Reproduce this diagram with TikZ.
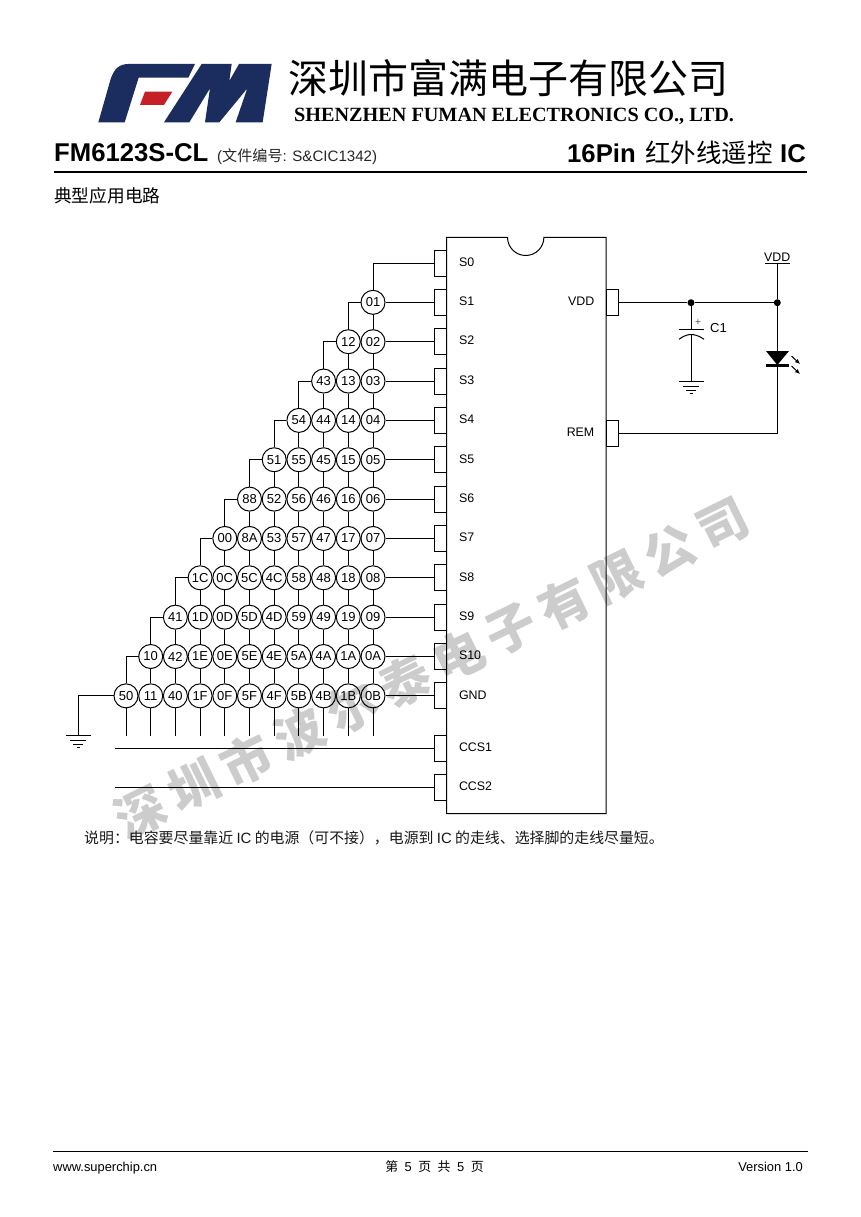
\documentclass[tikz,border=0pt]{standalone}
\usepackage{fontspec}
\setmainfont{Liberation Sans}
\newfontfamily\cjk{Noto Sans CJK SC}
\newfontfamily\timesf{Liberation Serif}
\usetikzlibrary{positioning, calc, arrows.meta}
\definecolor{logoblue}{RGB}{27,45,95}
\definecolor{logored}{RGB}{196,32,38}
\newcommand{\fs}[1]{\fontsize{#1}{#1}\selectfont}
\tikzstyle{wire} = [line width=1pt, black]
\tikzstyle{keybtn} = [circle, draw, fill=white, line width=1pt, minimum size=24pt, inner sep=0pt, font=\fs{13}]
\tikzstyle{pinbox} = [rectangle, draw, fill=white, line width=1pt, minimum width=12pt, minimum height=26pt, inner sep=0pt]
\tikzstyle{pinname} = [inner sep=0pt, font=\fs{12.4}]
\tikzstyle{dot} = [circle, fill=black, minimum size=7pt, inner sep=0pt]
\tikzstyle{pagetext} = [inner sep=0pt, anchor=west]
\tikzstyle{rule} = [line width=1.8pt, black]
\tikzstyle{stamp} = [inner sep=0pt, rotate=26.2, text=black, opacity=0.2, font=\cjk\bfseries\fs{50}]
\tikzset{
	gndmark/.pic={
		\draw [wire] (-12.5,0) -- (12.5,0);
		\draw [wire] (-8,5) -- (8,5);
		\draw [wire] (-5,8.5) -- (5,8.5);
		\draw [wire] (-1.5,11.5) -- (1.5,11.5);
	},
}
\begin{document}
\begin{tikzpicture}[x=1pt, y=-1pt]
    \useasboundingbox (0,0) rectangle (860,1217);
    \fill [white] (0,0) rectangle (860,1217);

    % header
    \begin{scope}[shift={(90,55)}, x=0.3333pt, y=-0.3333pt]
        \fill [logoblue] (25,202) -- (62,72) .. controls (72,42) and (88,27) .. (115,27) -- (315,27) -- (295,68) -- (146,68) -- (104,202) -- cycle;
        \fill [logored] (165,110) -- (247,110) -- (222,150) -- (150,150) -- cycle;
        \fill [logoblue] (222,202) -- (335,27) -- (425,27) -- (418,78) -- (447,27) -- (545,27) -- (518,202) -- (437,202) -- (472,100) -- (388,202) -- (345,202) -- (360,100) -- (298,202) -- cycle;
    \end{scope}
    \node (company) [pagetext, font=\cjk\fs{40}] at (288,78) {深圳市富满电子有限公司};
    \node (companyen) [pagetext, font=\timesf\bfseries\fs{20.2}] at (294,116) {SHENZHEN FUMAN ELECTRONICS CO., LTD.};
    \node (part) [pagetext, font=\bfseries\fs{25.7}] at (54,153) {FM6123S-CL};
    \node (docno) [pagetext, font=\fs{15.1}, text=black!85] at (217,157) {({\cjk 文件编号}: S\&CIC1342)};
    \node (kind) [inner sep=0pt, anchor=east, font=\bfseries\fs{25.7}] at (806,153) {16Pin\hspace{4pt}{\cjk\mdseries\fs{25.5} 红外线遥控} IC};
    \draw [rule] (54,172) -- (807,172);
    \node (section) [pagetext, font=\cjk\fs{17.7}] at (54,196) {典型应用电路};

    % key matrix, rows from S1 to GND, right column first
    \foreach \r/\keys in {1/{01}, 2/{02,12}, 3/{03,13,43}, 4/{04,14,44,54}, 5/{05,15,45,55,51}, 6/{06,16,46,56,52,88},
        7/{07,17,47,57,53,8A,00}, 8/{08,18,48,58,4C,5C,0C,1C}, 9/{09,19,49,59,4D,5D,0D,1D,41},
        10/{0A,1A,4A,5A,4E,5E,0E,1E,42,10}, 11/{0B,1B,4B,5B,4F,5F,0F,1F,40,11,50}}
        \foreach \k [count=\c from 0] in \keys
            \node (k\r-\c) [keybtn] at ({373-24.7*\c},{263+39.35*\r}) {\k};

    % left pins
    \foreach \r/\name in {0/S0, 1/S1, 2/S2, 3/S3, 4/S4, 5/S5, 6/S6, 7/S7, 8/S8, 9/S9, 10/S10, 11/GND} {
        \node (p\r) [pinbox] at ({440.3},{263+39.35*\r}) {};
        \node (n\r) [pinname, anchor=west, right = 12pt of p\r, yshift=1pt] {\name};
    }
    \node (p12) [pinbox] at (440.3,748.3) {};
    \node (n12) [pinname, anchor=west, right = 12pt of p12, yshift=1pt] {CCS1};
    \node (p13) [pinbox] at (440.3,787.7) {};
    \node (n13) [pinname, anchor=west, right = 12pt of p13, yshift=1pt] {CCS2};

    % right pins
    \node (pvdd) [pinbox] at (612,302.7) {};
    \node (nvdd) [pinname, anchor=east, left = 11pt of pvdd, yshift=1pt] {VDD};
    \node (prem) [pinbox] at (612,433.7) {};
    \node (nrem) [pinname, anchor=east, left = 11pt of prem, yshift=1pt] {REM};

    % chip body
    \draw [wire] (446.5,237.3) -- (507.5,237.3) arc [start angle=180, end angle=0, radius=18.2] -- (606,237.3) -- (606,813.7) -- (446.5,813.7) -- cycle;

    % key wiring
    \draw [wire] (p0.west) -| (k1-0.north);
    \foreach \r in {1,...,11}
        \draw [wire] (k\r-0.east) -- (p\r.west);
    \foreach \r [evaluate=\r as \nr using int(\r+1), evaluate=\r as \last using int(\r-1)] in {1,...,10} {
        \foreach \c in {0,...,\last}
            \draw [wire] (k\r-\c.south) -- (k\nr-\c.north);
        \draw [wire] (k\r-\last.west) -| (k\nr-\r.north);
    }
    \foreach \c in {0,...,10} {
        \coordinate (tail\c) at ([yshift=-27.5pt] k11-\c.south);
        \draw [wire] (k11-\c.south) -- (tail\c);
    }
    \coordinate (gndl) at (78,735.7);
    \draw [wire] (k11-10.west) -| (gndl);
    \pic at (gndl) {gndmark};
    \coordinate (ccsa) at (115,748.3);
    \coordinate (ccsb) at (115,787.7);
    \draw [wire] (ccsa) -- (p12.west);
    \draw [wire] (ccsb) -- (p13.west);

    % supply side
    \node (jcap) [dot] at (691,302.7) {};
    \node (jvdd) [dot] at (777.3,302.7) {};
    \coordinate (vddtop) at (777.3,263.3);
    \coordinate (capa) at (691,329);
    \coordinate (capb) at (691,334.5);
    \coordinate (gndc) at (691,381.7);
    \draw [wire] (pvdd.east) -- (jcap) -- (jvdd);
    \draw [wire] (jvdd) -- (vddtop);
    \draw [wire] ([xshift=-12.5pt] vddtop) -- ([xshift=12.5pt] vddtop);
    \node (vddlab) [pinname, above = 1.5pt of vddtop] {VDD};
    \draw [wire] (jcap) -- (capa);
    \draw [wire] ([xshift=-12.5pt] capa) -- ([xshift=12.5pt] capa);
    \draw [wire] (679,339.3) .. controls (684,335.5) and (688,334.5) .. (capb) .. controls (694,334.5) and (699,335.5) .. (704,339.3);
    \draw [wire] (capb) -- (gndc);
    \pic at (gndc) {gndmark};
    \node (capplus) [pinname, font=\fs{10}, text=black!70] at (698,322.5) {+};
    \node (caplab) [pagetext, font=\fs{13}] at (710,328) {C1};

    % led
    \draw [wire] (jvdd) |- (prem.east);
    \fill [black] (766,351) -- (789,351) -- (777.3,365) -- cycle;
    \draw [line width=2.2pt] (766,365.5) -- (789,365.5);
    \draw [line width=1pt, -{Latex[length=5pt, width=4.5pt]}] (791.5,356) -- (800,364);
    \draw [line width=1pt, -{Latex[length=5pt, width=4.5pt]}] (791.5,366) -- (800,374);

    % note
    \node (note) [pagetext, font=\cjk\fs{14.9}, text=black!90] at (84,838) {说明：电容要尽量靠近 {\normalfont IC} 的电源（可不接），电源到 {\normalfont IC} 的走线、选择脚的走线尽量短。};

    % footer
    \draw [line width=1.5pt] (53,1151.5) -- (808,1151.5);
    \node (site) [pagetext, font=\fs{12.9}] at (53,1168.5) {www.superchip.cn};
    \node (pageno) [inner sep=0pt, font=\fs{12.9}] at (434.5,1167) {{\cjk 第}\hspace{6.5pt}5\hspace{6.5pt}{\cjk 页}\hspace{6.5pt}{\cjk 共}\hspace{6.5pt}5\hspace{6.5pt}{\cjk 页}};
    \node (version) [inner sep=0pt, anchor=east, font=\fs{12.9}] at (803,1167) {Version 1.0};

    % stamp across the page
    \foreach \ch [count=\i from 0] in {深,圳,市,波,尔,泰,电,子,有,限,公,司}
        \node (stamp\i) [stamp] at ({141+52.9*\i},{812-26.1*\i}) {\ch};
\end{tikzpicture}
\end{document}
